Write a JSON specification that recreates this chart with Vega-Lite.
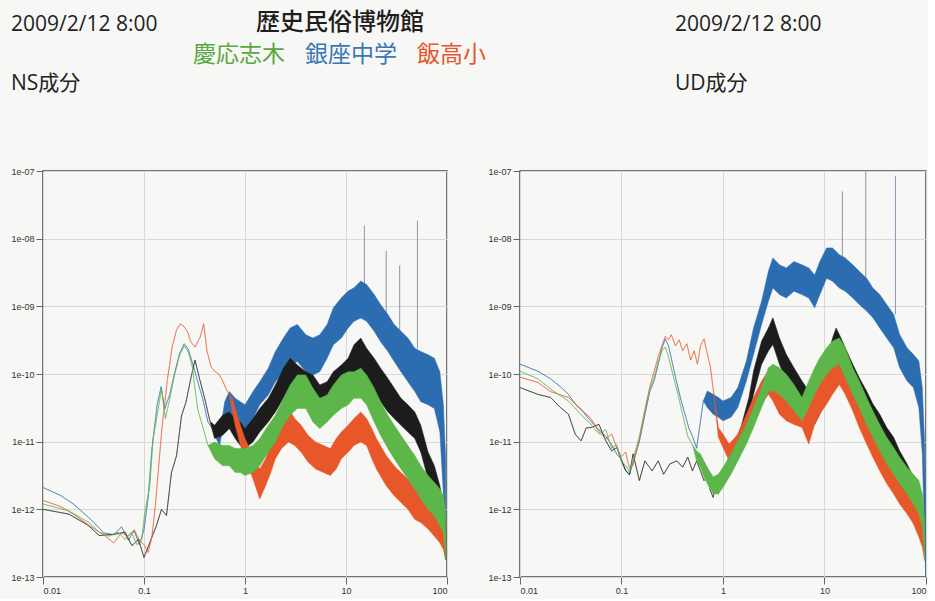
{
  "$schema": "https://vega.github.io/schema/vega-lite/v6.json",
  "background": "#f7f7f5",
  "padding": {"left": 10, "top": 11, "right": 0, "bottom": 3},
  "spacing": 38,
  "datasets": {
    "spikes": [
      {"p": "NS", "f": 15.2, "top": 1.55e-8, "base": 1.5e-9},
      {"p": "NS", "f": 25, "top": 6.6e-9, "base": 8e-10},
      {"p": "NS", "f": 34, "top": 4.0e-9, "base": 4.5e-10},
      {"p": "NS", "f": 51, "top": 1.85e-8, "base": 2.4e-10},
      {"p": "UD", "f": 15, "top": 5e-8, "base": 4e-9},
      {"p": "UD", "f": 25.5, "top": 1e-7, "base": 2.6e-9},
      {"p": "UD", "f": 50, "top": 8.5e-8, "base": 7.6e-10}
    ],
    "spec": [
      {"p":"NS","s":"銀座中学","f":0.01,"lo":2.1e-12,"hi":2.1e-12},
      {"p":"NS","s":"銀座中学","f":0.015,"lo":1.6e-12,"hi":1.6e-12},
      {"p":"NS","s":"銀座中学","f":0.02,"lo":1.2e-12,"hi":1.2e-12},
      {"p":"NS","s":"銀座中学","f":0.03,"lo":7e-13,"hi":7e-13},
      {"p":"NS","s":"銀座中学","f":0.04,"lo":4.5e-13,"hi":4.5e-13},
      {"p":"NS","s":"銀座中学","f":0.05,"lo":4.2e-13,"hi":4.2e-13},
      {"p":"NS","s":"銀座中学","f":0.06,"lo":5.5e-13,"hi":5.5e-13},
      {"p":"NS","s":"銀座中学","f":0.07,"lo":3.5e-13,"hi":3.5e-13},
      {"p":"NS","s":"銀座中学","f":0.08,"lo":4.8e-13,"hi":4.8e-13},
      {"p":"NS","s":"銀座中学","f":0.09,"lo":3.0e-13,"hi":3.0e-13},
      {"p":"NS","s":"銀座中学","f":0.1,"lo":5.0e-13,"hi":5.0e-13},
      {"p":"NS","s":"銀座中学","f":0.11,"lo":1.5e-12,"hi":1.5e-12},
      {"p":"NS","s":"銀座中学","f":0.12,"lo":8e-12,"hi":8e-12},
      {"p":"NS","s":"銀座中学","f":0.135,"lo":3.5e-11,"hi":3.5e-11},
      {"p":"NS","s":"銀座中学","f":0.148,"lo":6.5e-11,"hi":6.5e-11},
      {"p":"NS","s":"銀座中学","f":0.16,"lo":3.0e-11,"hi":3.0e-11},
      {"p":"NS","s":"銀座中学","f":0.18,"lo":5.0e-11,"hi":5.0e-11},
      {"p":"NS","s":"銀座中学","f":0.2,"lo":1.0e-10,"hi":1.0e-10},
      {"p":"NS","s":"銀座中学","f":0.225,"lo":2.0e-10,"hi":2.0e-10},
      {"p":"NS","s":"銀座中学","f":0.25,"lo":2.8e-10,"hi":2.8e-10},
      {"p":"NS","s":"銀座中学","f":0.275,"lo":2.3e-10,"hi":2.3e-10},
      {"p":"NS","s":"銀座中学","f":0.3,"lo":1.5e-10,"hi":1.5e-10},
      {"p":"NS","s":"銀座中学","f":0.34,"lo":7.7e-11,"hi":7.7e-11},
      {"p":"NS","s":"銀座中学","f":0.38,"lo":4.4e-11,"hi":4.4e-11},
      {"p":"NS","s":"銀座中学","f":0.43,"lo":1.95e-11,"hi":1.95e-11},
      {"p":"NS","s":"銀座中学","f":0.47,"lo":1.6e-11,"hi":1.6e-11},
      {"p":"NS","s":"銀座中学","f":0.5,"lo":1.24e-11,"hi":1.75e-11},
      {"p":"NS","s":"銀座中学","f":0.56,"lo":8.8e-12,"hi":1.24e-11},
      {"p":"NS","s":"銀座中学","f":0.63,"lo":2.2e-11,"hi":3.9e-11},
      {"p":"NS","s":"銀座中学","f":0.7,"lo":2.75e-11,"hi":5.5e-11},
      {"p":"NS","s":"銀座中学","f":0.8,"lo":2.2e-11,"hi":4.4e-11},
      {"p":"NS","s":"銀座中学","f":0.9,"lo":1.96e-11,"hi":3.9e-11},
      {"p":"NS","s":"銀座中学","f":1.0,"lo":1.56e-11,"hi":3.5e-11},
      {"p":"NS","s":"銀座中学","f":1.2,"lo":2.2e-11,"hi":5.5e-11},
      {"p":"NS","s":"銀座中学","f":1.4,"lo":3.5e-11,"hi":7.7e-11},
      {"p":"NS","s":"銀座中学","f":1.7,"lo":4.9e-11,"hi":1.22e-10},
      {"p":"NS","s":"銀座中学","f":2.0,"lo":7.7e-11,"hi":2.15e-10},
      {"p":"NS","s":"銀座中学","f":2.4,"lo":1.08e-10,"hi":3.4e-10},
      {"p":"NS","s":"銀座中学","f":2.8,"lo":1.36e-10,"hi":4.8e-10},
      {"p":"NS","s":"銀座中学","f":3.3,"lo":1.53e-10,"hi":5.4e-10},
      {"p":"NS","s":"銀座中学","f":4.0,"lo":1.08e-10,"hi":3.8e-10},
      {"p":"NS","s":"銀座中学","f":4.7,"lo":9.7e-11,"hi":3.4e-10},
      {"p":"NS","s":"銀座中学","f":5.5,"lo":1.08e-10,"hi":3.8e-10},
      {"p":"NS","s":"銀座中学","f":6.5,"lo":1.71e-10,"hi":5.4e-10},
      {"p":"NS","s":"銀座中学","f":7.5,"lo":2.7e-10,"hi":9.5e-10},
      {"p":"NS","s":"銀座中学","f":9,"lo":3.4e-10,"hi":1.34e-9},
      {"p":"NS","s":"銀座中学","f":10.5,"lo":4.8e-10,"hi":1.68e-9},
      {"p":"NS","s":"銀座中学","f":12,"lo":6.0e-10,"hi":1.88e-9},
      {"p":"NS","s":"銀座中学","f":14,"lo":6.7e-10,"hi":2.37e-9},
      {"p":"NS","s":"銀座中学","f":16,"lo":6.0e-10,"hi":2.1e-9},
      {"p":"NS","s":"銀座中学","f":19,"lo":4.3e-10,"hi":1.5e-9},
      {"p":"NS","s":"銀座中学","f":22,"lo":3.0e-10,"hi":1.06e-9},
      {"p":"NS","s":"銀座中学","f":26,"lo":2.15e-10,"hi":7.55e-10},
      {"p":"NS","s":"銀座中学","f":30,"lo":1.53e-10,"hi":5.4e-10},
      {"p":"NS","s":"銀座中学","f":35,"lo":1.08e-10,"hi":4.3e-10},
      {"p":"NS","s":"銀座中学","f":41,"lo":7.7e-11,"hi":3.4e-10},
      {"p":"NS","s":"銀座中学","f":48,"lo":5.5e-11,"hi":2.4e-10},
      {"p":"NS","s":"銀座中学","f":55,"lo":3.9e-11,"hi":2.15e-10},
      {"p":"NS","s":"銀座中学","f":65,"lo":3.5e-11,"hi":1.92e-10},
      {"p":"NS","s":"銀座中学","f":75,"lo":3.1e-11,"hi":1.71e-10},
      {"p":"NS","s":"銀座中学","f":85,"lo":1.39e-11,"hi":1.08e-10},
      {"p":"NS","s":"銀座中学","f":92,"lo":1.78e-12,"hi":3.5e-11},
      {"p":"NS","s":"銀座中学","f":97,"lo":3.2e-13,"hi":5.6e-12},

      {"p":"NS","s":"歴史民俗博物館","f":0.01,"lo":1.0e-12,"hi":1.0e-12},
      {"p":"NS","s":"歴史民俗博物館","f":0.018,"lo":8.5e-13,"hi":8.5e-13},
      {"p":"NS","s":"歴史民俗博物館","f":0.028,"lo":5.8e-13,"hi":5.8e-13},
      {"p":"NS","s":"歴史民俗博物館","f":0.036,"lo":4.1e-13,"hi":4.1e-13},
      {"p":"NS","s":"歴史民俗博物館","f":0.052,"lo":4.3e-13,"hi":4.3e-13},
      {"p":"NS","s":"歴史民俗博物館","f":0.065,"lo":4.6e-13,"hi":4.6e-13},
      {"p":"NS","s":"歴史民俗博物館","f":0.076,"lo":2.9e-13,"hi":2.9e-13},
      {"p":"NS","s":"歴史民俗博物館","f":0.088,"lo":3.6e-13,"hi":3.6e-13},
      {"p":"NS","s":"歴史民俗博物館","f":0.1,"lo":1.95e-13,"hi":1.95e-13},
      {"p":"NS","s":"歴史民俗博物館","f":0.114,"lo":3.2e-13,"hi":3.2e-13},
      {"p":"NS","s":"歴史民俗博物館","f":0.133,"lo":5.8e-13,"hi":5.8e-13},
      {"p":"NS","s":"歴史民俗博物館","f":0.149,"lo":1.0e-12,"hi":1.0e-12},
      {"p":"NS","s":"歴史民俗博物館","f":0.167,"lo":8.1e-13,"hi":8.1e-13},
      {"p":"NS","s":"歴史民俗博物館","f":0.187,"lo":3.5e-12,"hi":3.5e-12},
      {"p":"NS","s":"歴史民俗博物館","f":0.21,"lo":6.2e-12,"hi":6.2e-12},
      {"p":"NS","s":"歴史民俗博物館","f":0.235,"lo":2.4e-11,"hi":2.4e-11},
      {"p":"NS","s":"歴史民俗博物館","f":0.26,"lo":3.8e-11,"hi":3.8e-11},
      {"p":"NS","s":"歴史民俗博物館","f":0.295,"lo":9.5e-11,"hi":9.5e-11},
      {"p":"NS","s":"歴史民俗博物館","f":0.32,"lo":1.6e-10,"hi":1.6e-10},
      {"p":"NS","s":"歴史民俗博物館","f":0.355,"lo":8.5e-11,"hi":8.5e-11},
      {"p":"NS","s":"歴史民俗博物館","f":0.4,"lo":4.3e-11,"hi":4.3e-11},
      {"p":"NS","s":"歴史民俗博物館","f":0.45,"lo":2.0e-11,"hi":2.0e-11},
      {"p":"NS","s":"歴史民俗博物館","f":0.5,"lo":1.11e-11,"hi":1.75e-11},
      {"p":"NS","s":"歴史民俗博物館","f":0.6,"lo":1.24e-11,"hi":2.46e-11},
      {"p":"NS","s":"歴史民俗博物館","f":0.7,"lo":1.56e-11,"hi":2.75e-11},
      {"p":"NS","s":"歴史民俗博物館","f":0.8,"lo":1.11e-11,"hi":2.2e-11},
      {"p":"NS","s":"歴史民俗博物館","f":0.9,"lo":8.8e-12,"hi":1.96e-11},
      {"p":"NS","s":"歴史民俗博物館","f":1.0,"lo":7.9e-12,"hi":1.56e-11},
      {"p":"NS","s":"歴史民俗博物館","f":1.2,"lo":9.9e-12,"hi":2.2e-11},
      {"p":"NS","s":"歴史民俗博物館","f":1.4,"lo":1.39e-11,"hi":3.1e-11},
      {"p":"NS","s":"歴史民俗博物館","f":1.7,"lo":1.96e-11,"hi":4.4e-11},
      {"p":"NS","s":"歴史民俗博物館","f":2.0,"lo":2.75e-11,"hi":6.9e-11},
      {"p":"NS","s":"歴史民俗博物館","f":2.4,"lo":4.4e-11,"hi":1.22e-10},
      {"p":"NS","s":"歴史民俗博物館","f":2.8,"lo":5.5e-11,"hi":1.71e-10},
      {"p":"NS","s":"歴史民俗博物館","f":3.3,"lo":5.5e-11,"hi":1.36e-10},
      {"p":"NS","s":"歴史民俗博物館","f":4.0,"lo":3.9e-11,"hi":1.08e-10},
      {"p":"NS","s":"歴史民俗博物館","f":4.7,"lo":3.5e-11,"hi":9.7e-11},
      {"p":"NS","s":"歴史民俗博物館","f":5.5,"lo":3.1e-11,"hi":6.9e-11},
      {"p":"NS","s":"歴史民俗博物館","f":6.5,"lo":3.5e-11,"hi":7.7e-11},
      {"p":"NS","s":"歴史民俗博物館","f":7.5,"lo":4.4e-11,"hi":1.08e-10},
      {"p":"NS","s":"歴史民俗博物館","f":9,"lo":5.5e-11,"hi":1.36e-10},
      {"p":"NS","s":"歴史民俗博物館","f":10.5,"lo":6.2e-11,"hi":1.71e-10},
      {"p":"NS","s":"歴史民俗博物館","f":12,"lo":9.7e-11,"hi":2.7e-10},
      {"p":"NS","s":"歴史民俗博物館","f":14,"lo":1.22e-10,"hi":3.4e-10},
      {"p":"NS","s":"歴史民俗博物館","f":16,"lo":8.6e-11,"hi":2.4e-10},
      {"p":"NS","s":"歴史民俗博物館","f":19,"lo":5.5e-11,"hi":1.71e-10},
      {"p":"NS","s":"歴史民俗博物館","f":22,"lo":3.9e-11,"hi":1.22e-10},
      {"p":"NS","s":"歴史民俗博物館","f":26,"lo":2.75e-11,"hi":8.6e-11},
      {"p":"NS","s":"歴史民俗博物館","f":30,"lo":2.2e-11,"hi":6.2e-11},
      {"p":"NS","s":"歴史民俗博物館","f":35,"lo":1.75e-11,"hi":4.4e-11},
      {"p":"NS","s":"歴史民俗博物館","f":41,"lo":1.39e-11,"hi":3.5e-11},
      {"p":"NS","s":"歴史民俗博物館","f":48,"lo":1.11e-11,"hi":2.75e-11},
      {"p":"NS","s":"歴史民俗博物館","f":55,"lo":7.0e-12,"hi":1.75e-11},
      {"p":"NS","s":"歴史民俗博物館","f":65,"lo":2.8e-12,"hi":7.0e-12},
      {"p":"NS","s":"歴史民俗博物館","f":75,"lo":1.59e-12,"hi":4.4e-12},
      {"p":"NS","s":"歴史民俗博物館","f":85,"lo":7.1e-13,"hi":2.24e-12},
      {"p":"NS","s":"歴史民俗博物館","f":92,"lo":3.6e-13,"hi":1.13e-12},
      {"p":"NS","s":"歴史民俗博物館","f":97,"lo":1.8e-13,"hi":5.7e-13},

      {"p":"NS","s":"飯高小","f":0.01,"lo":1.35e-12,"hi":1.35e-12},
      {"p":"NS","s":"飯高小","f":0.015,"lo":1.1e-12,"hi":1.1e-12},
      {"p":"NS","s":"飯高小","f":0.02,"lo":8.5e-13,"hi":8.5e-13},
      {"p":"NS","s":"飯高小","f":0.03,"lo":5.5e-13,"hi":5.5e-13},
      {"p":"NS","s":"飯高小","f":0.04,"lo":4.2e-13,"hi":4.2e-13},
      {"p":"NS","s":"飯高小","f":0.05,"lo":3.2e-13,"hi":3.2e-13},
      {"p":"NS","s":"飯高小","f":0.06,"lo":4.5e-13,"hi":4.5e-13},
      {"p":"NS","s":"飯高小","f":0.07,"lo":4.0e-13,"hi":4.0e-13},
      {"p":"NS","s":"飯高小","f":0.08,"lo":5.0e-13,"hi":5.0e-13},
      {"p":"NS","s":"飯高小","f":0.09,"lo":3.5e-13,"hi":3.5e-13},
      {"p":"NS","s":"飯高小","f":0.1,"lo":3.0e-13,"hi":3.0e-13},
      {"p":"NS","s":"飯高小","f":0.11,"lo":2.3e-13,"hi":2.3e-13},
      {"p":"NS","s":"飯高小","f":0.12,"lo":4e-13,"hi":4e-13},
      {"p":"NS","s":"飯高小","f":0.13,"lo":1.2e-12,"hi":1.2e-12},
      {"p":"NS","s":"飯高小","f":0.15,"lo":1.5e-11,"hi":1.5e-11},
      {"p":"NS","s":"飯高小","f":0.17,"lo":8e-11,"hi":8e-11},
      {"p":"NS","s":"飯高小","f":0.19,"lo":2.5e-10,"hi":2.5e-10},
      {"p":"NS","s":"飯高小","f":0.21,"lo":4.5e-10,"hi":4.5e-10},
      {"p":"NS","s":"飯高小","f":0.23,"lo":5.5e-10,"hi":5.5e-10},
      {"p":"NS","s":"飯高小","f":0.25,"lo":5.0e-10,"hi":5.0e-10},
      {"p":"NS","s":"飯高小","f":0.27,"lo":4.2e-10,"hi":4.2e-10},
      {"p":"NS","s":"飯高小","f":0.29,"lo":3.0e-10,"hi":3.0e-10},
      {"p":"NS","s":"飯高小","f":0.32,"lo":2.5e-10,"hi":2.5e-10},
      {"p":"NS","s":"飯高小","f":0.36,"lo":3.5e-10,"hi":3.5e-10},
      {"p":"NS","s":"飯高小","f":0.39,"lo":5.5e-10,"hi":5.5e-10},
      {"p":"NS","s":"飯高小","f":0.42,"lo":2.2e-10,"hi":2.2e-10},
      {"p":"NS","s":"飯高小","f":0.46,"lo":1.3e-10,"hi":1.3e-10},
      {"p":"NS","s":"飯高小","f":0.5,"lo":1.1e-10,"hi":1.1e-10},
      {"p":"NS","s":"飯高小","f":0.55,"lo":1.0e-10,"hi":1.0e-10},
      {"p":"NS","s":"飯高小","f":0.6,"lo":8e-11,"hi":8e-11},
      {"p":"NS","s":"飯高小","f":0.65,"lo":6e-11,"hi":6e-11},
      {"p":"NS","s":"飯高小","f":0.7,"lo":5e-11,"hi":5e-11},
      {"p":"NS","s":"飯高小","f":0.75,"lo":2.75e-11,"hi":4.4e-11},
      {"p":"NS","s":"飯高小","f":0.8,"lo":1.75e-11,"hi":3.1e-11},
      {"p":"NS","s":"飯高小","f":0.9,"lo":8.8e-12,"hi":1.75e-11},
      {"p":"NS","s":"飯高小","f":1.0,"lo":5.6e-12,"hi":1.11e-11},
      {"p":"NS","s":"飯高小","f":1.2,"lo":2.8e-12,"hi":6.25e-12},
      {"p":"NS","s":"飯高小","f":1.4,"lo":1.42e-12,"hi":3.95e-12},
      {"p":"NS","s":"飯高小","f":1.6,"lo":2.24e-12,"hi":5.6e-12},
      {"p":"NS","s":"飯高小","f":1.8,"lo":3.5e-12,"hi":8.8e-12},
      {"p":"NS","s":"飯高小","f":2.0,"lo":5.6e-12,"hi":1.39e-11},
      {"p":"NS","s":"飯高小","f":2.3,"lo":7.9e-12,"hi":2.2e-11},
      {"p":"NS","s":"飯高小","f":2.7,"lo":9.9e-12,"hi":3.1e-11},
      {"p":"NS","s":"飯高小","f":3.1,"lo":8.8e-12,"hi":2.2e-11},
      {"p":"NS","s":"飯高小","f":3.6,"lo":7.0e-12,"hi":1.75e-11},
      {"p":"NS","s":"飯高小","f":4.2,"lo":5.0e-12,"hi":1.24e-11},
      {"p":"NS","s":"飯高小","f":5.0,"lo":3.95e-12,"hi":9.9e-12},
      {"p":"NS","s":"飯高小","f":6.0,"lo":3.5e-12,"hi":8.8e-12},
      {"p":"NS","s":"飯高小","f":7.0,"lo":3.15e-12,"hi":7.9e-12},
      {"p":"NS","s":"飯高小","f":8.0,"lo":3.95e-12,"hi":1.11e-11},
      {"p":"NS","s":"飯高小","f":9.0,"lo":5.6e-12,"hi":1.39e-11},
      {"p":"NS","s":"飯高小","f":10.5,"lo":7.0e-12,"hi":1.75e-11},
      {"p":"NS","s":"飯高小","f":12,"lo":8.8e-12,"hi":2.2e-11},
      {"p":"NS","s":"飯高小","f":14,"lo":9.9e-12,"hi":2.75e-11},
      {"p":"NS","s":"飯高小","f":16,"lo":8.8e-12,"hi":2.2e-11},
      {"p":"NS","s":"飯高小","f":18,"lo":5.6e-12,"hi":1.56e-11},
      {"p":"NS","s":"飯高小","f":20,"lo":3.95e-12,"hi":1.11e-11},
      {"p":"NS","s":"飯高小","f":25,"lo":2.24e-12,"hi":6.25e-12},
      {"p":"NS","s":"飯高小","f":30,"lo":1.59e-12,"hi":4.4e-12},
      {"p":"NS","s":"飯高小","f":35,"lo":1.26e-12,"hi":3.5e-12},
      {"p":"NS","s":"飯高小","f":41,"lo":1.0e-12,"hi":2.8e-12},
      {"p":"NS","s":"飯高小","f":48,"lo":7.1e-13,"hi":2.0e-12},
      {"p":"NS","s":"飯高小","f":55,"lo":6.4e-13,"hi":1.59e-12},
      {"p":"NS","s":"飯高小","f":65,"lo":5.1e-13,"hi":1.26e-12},
      {"p":"NS","s":"飯高小","f":75,"lo":4.0e-13,"hi":1.0e-12},
      {"p":"NS","s":"飯高小","f":85,"lo":3.2e-13,"hi":8.0e-13},
      {"p":"NS","s":"飯高小","f":92,"lo":2.56e-13,"hi":7.1e-13},
      {"p":"NS","s":"飯高小","f":97,"lo":1.8e-13,"hi":5.7e-13},

      {"p":"NS","s":"慶応志木","f":0.01,"lo":1.2e-12,"hi":1.2e-12},
      {"p":"NS","s":"慶応志木","f":0.018,"lo":9.5e-13,"hi":9.5e-13},
      {"p":"NS","s":"慶応志木","f":0.028,"lo":6.5e-13,"hi":6.5e-13},
      {"p":"NS","s":"慶応志木","f":0.036,"lo":4.6e-13,"hi":4.6e-13},
      {"p":"NS","s":"慶応志木","f":0.045,"lo":4.0e-13,"hi":4.0e-13},
      {"p":"NS","s":"慶応志木","f":0.055,"lo":4.6e-13,"hi":4.6e-13},
      {"p":"NS","s":"慶応志木","f":0.065,"lo":3.6e-13,"hi":3.6e-13},
      {"p":"NS","s":"慶応志木","f":0.075,"lo":4.6e-13,"hi":4.6e-13},
      {"p":"NS","s":"慶応志木","f":0.085,"lo":3.0e-13,"hi":3.0e-13},
      {"p":"NS","s":"慶応志木","f":0.095,"lo":3.6e-13,"hi":3.6e-13},
      {"p":"NS","s":"慶応志木","f":0.102,"lo":9.1e-13,"hi":9.1e-13},
      {"p":"NS","s":"慶応志木","f":0.114,"lo":2.2e-12,"hi":2.2e-12},
      {"p":"NS","s":"慶応志木","f":0.123,"lo":1.1e-11,"hi":1.1e-11},
      {"p":"NS","s":"慶応志木","f":0.138,"lo":3.0e-11,"hi":3.0e-11},
      {"p":"NS","s":"慶応志木","f":0.149,"lo":6.0e-11,"hi":6.0e-11},
      {"p":"NS","s":"慶応志木","f":0.163,"lo":2.2e-11,"hi":2.2e-11},
      {"p":"NS","s":"慶応志木","f":0.18,"lo":4.3e-11,"hi":4.3e-11},
      {"p":"NS","s":"慶応志木","f":0.2,"lo":9.5e-11,"hi":9.5e-11},
      {"p":"NS","s":"慶応志木","f":0.225,"lo":1.9e-10,"hi":1.9e-10},
      {"p":"NS","s":"慶応志木","f":0.25,"lo":2.6e-10,"hi":2.6e-10},
      {"p":"NS","s":"慶応志木","f":0.275,"lo":2.1e-10,"hi":2.1e-10},
      {"p":"NS","s":"慶応志木","f":0.3,"lo":1.3e-10,"hi":1.3e-10},
      {"p":"NS","s":"慶応志木","f":0.34,"lo":3.0e-11,"hi":3.0e-11},
      {"p":"NS","s":"慶応志木","f":0.38,"lo":1.7e-11,"hi":1.7e-11},
      {"p":"NS","s":"慶応志木","f":0.43,"lo":8.8e-12,"hi":8.8e-12},
      {"p":"NS","s":"慶応志木","f":0.5,"lo":5.6e-12,"hi":9.9e-12},
      {"p":"NS","s":"慶応志木","f":0.6,"lo":4.4e-12,"hi":8.8e-12},
      {"p":"NS","s":"慶応志木","f":0.7,"lo":4.4e-12,"hi":8.8e-12},
      {"p":"NS","s":"慶応志木","f":0.8,"lo":3.5e-12,"hi":7.9e-12},
      {"p":"NS","s":"慶応志木","f":0.9,"lo":3.5e-12,"hi":7.9e-12},
      {"p":"NS","s":"慶応志木","f":1.0,"lo":3.15e-12,"hi":7.9e-12},
      {"p":"NS","s":"慶応志木","f":1.2,"lo":3.5e-12,"hi":8.8e-12},
      {"p":"NS","s":"慶応志木","f":1.4,"lo":4.4e-12,"hi":1.11e-11},
      {"p":"NS","s":"慶応志木","f":1.7,"lo":7.0e-12,"hi":1.75e-11},
      {"p":"NS","s":"慶応志木","f":2.0,"lo":9.9e-12,"hi":2.46e-11},
      {"p":"NS","s":"慶応志木","f":2.4,"lo":1.75e-11,"hi":4.4e-11},
      {"p":"NS","s":"慶応志木","f":2.8,"lo":2.46e-11,"hi":6.9e-11},
      {"p":"NS","s":"慶応志木","f":3.3,"lo":3.1e-11,"hi":9.7e-11},
      {"p":"NS","s":"慶応志木","f":4.0,"lo":3.1e-11,"hi":9.7e-11},
      {"p":"NS","s":"慶応志木","f":4.7,"lo":1.96e-11,"hi":6.2e-11},
      {"p":"NS","s":"慶応志木","f":5.5,"lo":1.56e-11,"hi":4.4e-11},
      {"p":"NS","s":"慶応志木","f":6.5,"lo":1.96e-11,"hi":4.9e-11},
      {"p":"NS","s":"慶応志木","f":7.5,"lo":2.46e-11,"hi":6.9e-11},
      {"p":"NS","s":"慶応志木","f":9,"lo":3.1e-11,"hi":9.7e-11},
      {"p":"NS","s":"慶応志木","f":10.5,"lo":3.5e-11,"hi":1.08e-10},
      {"p":"NS","s":"慶応志木","f":12,"lo":4.4e-11,"hi":1.08e-10},
      {"p":"NS","s":"慶応志木","f":14,"lo":4.4e-11,"hi":1.22e-10},
      {"p":"NS","s":"慶応志木","f":16,"lo":3.5e-11,"hi":9.7e-11},
      {"p":"NS","s":"慶応志木","f":19,"lo":1.96e-11,"hi":6.2e-11},
      {"p":"NS","s":"慶応志木","f":22,"lo":1.24e-11,"hi":3.9e-11},
      {"p":"NS","s":"慶応志木","f":26,"lo":7.9e-12,"hi":2.46e-11},
      {"p":"NS","s":"慶応志木","f":30,"lo":5.6e-12,"hi":1.75e-11},
      {"p":"NS","s":"慶応志木","f":35,"lo":3.95e-12,"hi":1.24e-11},
      {"p":"NS","s":"慶応志木","f":41,"lo":2.8e-12,"hi":8.8e-12},
      {"p":"NS","s":"慶応志木","f":48,"lo":2.0e-12,"hi":6.25e-12},
      {"p":"NS","s":"慶応志木","f":55,"lo":1.42e-12,"hi":4.4e-12},
      {"p":"NS","s":"慶応志木","f":65,"lo":1.0e-12,"hi":3.15e-12},
      {"p":"NS","s":"慶応志木","f":75,"lo":8.0e-13,"hi":2.5e-12},
      {"p":"NS","s":"慶応志木","f":85,"lo":5.7e-13,"hi":2.0e-12},
      {"p":"NS","s":"慶応志木","f":92,"lo":4.5e-13,"hi":1.59e-12},
      {"p":"NS","s":"慶応志木","f":97,"lo":1.8e-13,"hi":9.0e-13},

      {"p":"UD","s":"銀座中学","f":0.01,"lo":1.4e-10,"hi":1.4e-10},
      {"p":"UD","s":"銀座中学","f":0.015,"lo":1.1e-10,"hi":1.1e-10},
      {"p":"UD","s":"銀座中学","f":0.02,"lo":8.5e-11,"hi":8.5e-11},
      {"p":"UD","s":"銀座中学","f":0.025,"lo":6.5e-11,"hi":6.5e-11},
      {"p":"UD","s":"銀座中学","f":0.03,"lo":5.0e-11,"hi":5.0e-11},
      {"p":"UD","s":"銀座中学","f":0.035,"lo":3.6e-11,"hi":3.6e-11},
      {"p":"UD","s":"銀座中学","f":0.04,"lo":3.0e-11,"hi":3.0e-11},
      {"p":"UD","s":"銀座中学","f":0.05,"lo":2.0e-11,"hi":2.0e-11},
      {"p":"UD","s":"銀座中学","f":0.06,"lo":1.5e-11,"hi":1.5e-11},
      {"p":"UD","s":"銀座中学","f":0.07,"lo":1.2e-11,"hi":1.2e-11},
      {"p":"UD","s":"銀座中学","f":0.08,"lo":9e-12,"hi":9e-12},
      {"p":"UD","s":"銀座中学","f":0.09,"lo":6.5e-12,"hi":6.5e-12},
      {"p":"UD","s":"銀座中学","f":0.1,"lo":5.5e-12,"hi":5.5e-12},
      {"p":"UD","s":"銀座中学","f":0.11,"lo":3.8e-12,"hi":3.8e-12},
      {"p":"UD","s":"銀座中学","f":0.12,"lo":3.2e-12,"hi":3.2e-12},
      {"p":"UD","s":"銀座中学","f":0.13,"lo":5.0e-12,"hi":5.0e-12},
      {"p":"UD","s":"銀座中学","f":0.15,"lo":1.0e-11,"hi":1.0e-11},
      {"p":"UD","s":"銀座中学","f":0.17,"lo":2.5e-11,"hi":2.5e-11},
      {"p":"UD","s":"銀座中学","f":0.19,"lo":5.5e-11,"hi":5.5e-11},
      {"p":"UD","s":"銀座中学","f":0.21,"lo":8.0e-11,"hi":8.0e-11},
      {"p":"UD","s":"銀座中学","f":0.23,"lo":1.4e-10,"hi":1.4e-10},
      {"p":"UD","s":"銀座中学","f":0.25,"lo":2.4e-10,"hi":2.4e-10},
      {"p":"UD","s":"銀座中学","f":0.27,"lo":3.3e-10,"hi":3.3e-10},
      {"p":"UD","s":"銀座中学","f":0.29,"lo":2.6e-10,"hi":2.6e-10},
      {"p":"UD","s":"銀座中学","f":0.31,"lo":1.7e-10,"hi":1.7e-10},
      {"p":"UD","s":"銀座中学","f":0.34,"lo":9e-11,"hi":9e-11},
      {"p":"UD","s":"銀座中学","f":0.38,"lo":4.5e-11,"hi":4.5e-11},
      {"p":"UD","s":"銀座中学","f":0.42,"lo":2.6e-11,"hi":2.6e-11},
      {"p":"UD","s":"銀座中学","f":0.46,"lo":1.6e-11,"hi":1.6e-11},
      {"p":"UD","s":"銀座中学","f":0.5,"lo":1.2e-11,"hi":1.2e-11},
      {"p":"UD","s":"銀座中学","f":0.55,"lo":8e-12,"hi":8e-12},
      {"p":"UD","s":"銀座中学","f":0.6,"lo":2.0e-11,"hi":2.0e-11},
      {"p":"UD","s":"銀座中学","f":0.64,"lo":4.0e-11,"hi":4.0e-11},
      {"p":"UD","s":"銀座中学","f":0.7,"lo":3.2e-11,"hi":5.6e-11},
      {"p":"UD","s":"銀座中学","f":0.8,"lo":2.55e-11,"hi":5.0e-11},
      {"p":"UD","s":"銀座中学","f":0.9,"lo":2.3e-11,"hi":4.5e-11},
      {"p":"UD","s":"銀座中学","f":1.0,"lo":2.03e-11,"hi":4.0e-11},
      {"p":"UD","s":"銀座中学","f":1.2,"lo":2.3e-11,"hi":4.5e-11},
      {"p":"UD","s":"銀座中学","f":1.4,"lo":3.2e-11,"hi":6.3e-11},
      {"p":"UD","s":"銀座中学","f":1.7,"lo":7.9e-11,"hi":1.56e-10},
      {"p":"UD","s":"銀座中学","f":2.0,"lo":1.95e-10,"hi":4.8e-10},
      {"p":"UD","s":"銀座中学","f":2.4,"lo":5.4e-10,"hi":1.19e-9},
      {"p":"UD","s":"銀座中学","f":2.8,"lo":1.19e-9,"hi":3.3e-9},
      {"p":"UD","s":"銀座中学","f":3.1,"lo":1.87e-9,"hi":5.2e-9},
      {"p":"UD","s":"銀座中学","f":3.6,"lo":1.49e-9,"hi":4.1e-9},
      {"p":"UD","s":"銀座中学","f":4.2,"lo":1.33e-9,"hi":3.7e-9},
      {"p":"UD","s":"銀座中学","f":5.0,"lo":1.67e-9,"hi":4.6e-9},
      {"p":"UD","s":"銀座中学","f":6.0,"lo":1.49e-9,"hi":4.1e-9},
      {"p":"UD","s":"銀座中学","f":7.0,"lo":1.33e-9,"hi":3.7e-9},
      {"p":"UD","s":"銀座中学","f":8.0,"lo":9.5e-10,"hi":2.9e-9},
      {"p":"UD","s":"銀座中学","f":9.0,"lo":1.49e-9,"hi":4.6e-9},
      {"p":"UD","s":"銀座中学","f":10.5,"lo":2.6e-9,"hi":7.3e-9},
      {"p":"UD","s":"銀座中学","f":12,"lo":2.34e-9,"hi":7.3e-9},
      {"p":"UD","s":"銀座中学","f":14,"lo":1.87e-9,"hi":5.8e-9},
      {"p":"UD","s":"銀座中学","f":16,"lo":1.67e-9,"hi":5.2e-9},
      {"p":"UD","s":"銀座中学","f":19,"lo":1.33e-9,"hi":4.1e-9},
      {"p":"UD","s":"銀座中学","f":22,"lo":1.06e-9,"hi":3.3e-9},
      {"p":"UD","s":"銀座中学","f":26,"lo":8.5e-10,"hi":2.6e-9},
      {"p":"UD","s":"銀座中学","f":30,"lo":6.8e-10,"hi":1.87e-9},
      {"p":"UD","s":"銀座中学","f":35,"lo":4.8e-10,"hi":1.49e-9},
      {"p":"UD","s":"銀座中学","f":41,"lo":3.4e-10,"hi":1.06e-9},
      {"p":"UD","s":"銀座中学","f":48,"lo":2.45e-10,"hi":7.6e-10},
      {"p":"UD","s":"銀座中学","f":55,"lo":1.24e-10,"hi":3.85e-10},
      {"p":"UD","s":"銀座中学","f":65,"lo":7.9e-11,"hi":2.45e-10},
      {"p":"UD","s":"銀座中学","f":75,"lo":6.3e-11,"hi":1.95e-10},
      {"p":"UD","s":"銀座中学","f":85,"lo":3.2e-11,"hi":1.56e-10},
      {"p":"UD","s":"銀座中学","f":92,"lo":6.6e-12,"hi":6.3e-11},
      {"p":"UD","s":"銀座中学","f":97,"lo":3.1e-13,"hi":9.2e-12},
      {"p":"UD","s":"銀座中学","f":99.5,"lo":1.1e-13,"hi":1.76e-13},

      {"p":"UD","s":"歴史民俗博物館","f":0.01,"lo":6.3e-11,"hi":6.3e-11},
      {"p":"UD","s":"歴史民俗博物館","f":0.015,"lo":5.0e-11,"hi":5.0e-11},
      {"p":"UD","s":"歴史民俗博物館","f":0.02,"lo":4.5e-11,"hi":4.5e-11},
      {"p":"UD","s":"歴史民俗博物館","f":0.025,"lo":3.2e-11,"hi":3.2e-11},
      {"p":"UD","s":"歴史民俗博物館","f":0.03,"lo":2.55e-11,"hi":2.55e-11},
      {"p":"UD","s":"歴史民俗博物館","f":0.035,"lo":1.29e-11,"hi":1.29e-11},
      {"p":"UD","s":"歴史民俗博物館","f":0.04,"lo":1.03e-11,"hi":1.03e-11},
      {"p":"UD","s":"歴史民俗博物館","f":0.045,"lo":1.6e-11,"hi":1.6e-11},
      {"p":"UD","s":"歴史民俗博物館","f":0.05,"lo":1.62e-11,"hi":1.62e-11},
      {"p":"UD","s":"歴史民俗博物館","f":0.06,"lo":1.8e-11,"hi":1.8e-11},
      {"p":"UD","s":"歴史民俗博物館","f":0.07,"lo":1.03e-11,"hi":1.03e-11},
      {"p":"UD","s":"歴史民俗博物館","f":0.08,"lo":7.3e-12,"hi":7.3e-12},
      {"p":"UD","s":"歴史民俗博物館","f":0.09,"lo":8.2e-12,"hi":8.2e-12},
      {"p":"UD","s":"歴史民俗博物館","f":0.1,"lo":5.2e-12,"hi":5.2e-12},
      {"p":"UD","s":"歴史民俗博物館","f":0.11,"lo":3.7e-12,"hi":3.7e-12},
      {"p":"UD","s":"歴史民俗博物館","f":0.12,"lo":3.3e-12,"hi":3.3e-12},
      {"p":"UD","s":"歴史民俗博物館","f":0.13,"lo":6.6e-12,"hi":6.6e-12},
      {"p":"UD","s":"歴史民俗博物館","f":0.15,"lo":2.66e-12,"hi":2.66e-12},
      {"p":"UD","s":"歴史民俗博物館","f":0.17,"lo":5.2e-12,"hi":5.2e-12},
      {"p":"UD","s":"歴史民俗博物館","f":0.2,"lo":3.7e-12,"hi":3.7e-12},
      {"p":"UD","s":"歴史民俗博物館","f":0.23,"lo":5.2e-12,"hi":5.2e-12},
      {"p":"UD","s":"歴史民俗博物館","f":0.26,"lo":3.3e-12,"hi":3.3e-12},
      {"p":"UD","s":"歴史民俗博物館","f":0.3,"lo":4.7e-12,"hi":4.7e-12},
      {"p":"UD","s":"歴史民俗博物館","f":0.35,"lo":5.2e-12,"hi":5.2e-12},
      {"p":"UD","s":"歴史民俗博物館","f":0.4,"lo":4.2e-12,"hi":4.2e-12},
      {"p":"UD","s":"歴史民俗博物館","f":0.45,"lo":5.9e-12,"hi":5.9e-12},
      {"p":"UD","s":"歴史民俗博物館","f":0.5,"lo":3.7e-12,"hi":3.7e-12},
      {"p":"UD","s":"歴史民俗博物館","f":0.55,"lo":5.2e-12,"hi":5.2e-12},
      {"p":"UD","s":"歴史民俗博物館","f":0.6,"lo":3.7e-12,"hi":3.7e-12},
      {"p":"UD","s":"歴史民俗博物館","f":0.65,"lo":2.66e-12,"hi":2.66e-12},
      {"p":"UD","s":"歴史民俗博物館","f":0.7,"lo":3.0e-12,"hi":3.0e-12},
      {"p":"UD","s":"歴史民俗博物館","f":0.75,"lo":1.9e-12,"hi":1.9e-12},
      {"p":"UD","s":"歴史民俗博物館","f":0.8,"lo":1.5e-12,"hi":1.5e-12},
      {"p":"UD","s":"歴史民俗博物館","f":0.85,"lo":2.4e-12,"hi":2.4e-12},
      {"p":"UD","s":"歴史民俗博物館","f":0.9,"lo":1.7e-12,"hi":1.7e-12},
      {"p":"UD","s":"歴史民俗博物館","f":1.0,"lo":3.3e-12,"hi":3.3e-12},
      {"p":"UD","s":"歴史民俗博物館","f":1.2,"lo":5.2e-12,"hi":7.3e-12},
      {"p":"UD","s":"歴史民俗博物館","f":1.5,"lo":9.2e-12,"hi":1.62e-11},
      {"p":"UD","s":"歴史民俗博物館","f":1.8,"lo":2.3e-11,"hi":4.5e-11},
      {"p":"UD","s":"歴史民俗博物館","f":2.0,"lo":5.0e-11,"hi":1.11e-10},
      {"p":"UD","s":"歴史民俗博物館","f":2.4,"lo":1.39e-10,"hi":3.07e-10},
      {"p":"UD","s":"歴史民俗博物館","f":2.8,"lo":2.18e-10,"hi":4.8e-10},
      {"p":"UD","s":"歴史民俗博物館","f":3.1,"lo":2.74e-10,"hi":6.8e-10},
      {"p":"UD","s":"歴史民俗博物館","f":3.6,"lo":1.39e-10,"hi":3.4e-10},
      {"p":"UD","s":"歴史民俗博物館","f":4.2,"lo":7.9e-11,"hi":1.95e-10},
      {"p":"UD","s":"歴史民俗博物館","f":5.0,"lo":5.0e-11,"hi":1.24e-10},
      {"p":"UD","s":"歴史民俗博物館","f":6.0,"lo":3.2e-11,"hi":7.9e-11},
      {"p":"UD","s":"歴史民俗博物館","f":7.0,"lo":2.3e-11,"hi":5.6e-11},
      {"p":"UD","s":"歴史民俗博物館","f":8.0,"lo":1.8e-11,"hi":4.5e-11},
      {"p":"UD","s":"歴史民俗博物館","f":9.0,"lo":2.55e-11,"hi":6.3e-11},
      {"p":"UD","s":"歴史民俗博物館","f":10.5,"lo":5.6e-11,"hi":1.56e-10},
      {"p":"UD","s":"歴史民俗博物館","f":12,"lo":1.39e-10,"hi":3.4e-10},
      {"p":"UD","s":"歴史民俗博物館","f":13,"lo":1.95e-10,"hi":4.8e-10},
      {"p":"UD","s":"歴史民俗博物館","f":14,"lo":1.56e-10,"hi":3.85e-10},
      {"p":"UD","s":"歴史民俗博物館","f":16,"lo":8.8e-11,"hi":2.45e-10},
      {"p":"UD","s":"歴史民俗博物館","f":19,"lo":5.0e-11,"hi":1.39e-10},
      {"p":"UD","s":"歴史民俗博物館","f":22,"lo":3.6e-11,"hi":8.8e-11},
      {"p":"UD","s":"歴史民俗博物館","f":26,"lo":2.3e-11,"hi":5.6e-11},
      {"p":"UD","s":"歴史民俗博物館","f":30,"lo":1.62e-11,"hi":3.6e-11},
      {"p":"UD","s":"歴史民俗博物館","f":35,"lo":1.16e-11,"hi":2.55e-11},
      {"p":"UD","s":"歴史民俗博物館","f":41,"lo":7.3e-12,"hi":1.62e-11},
      {"p":"UD","s":"歴史民俗博物館","f":48,"lo":5.9e-12,"hi":1.16e-11},
      {"p":"UD","s":"歴史民俗博物館","f":55,"lo":3.0e-12,"hi":7.3e-12},
      {"p":"UD","s":"歴史民俗博物館","f":65,"lo":1.69e-12,"hi":4.7e-12},
      {"p":"UD","s":"歴史民俗博物館","f":75,"lo":1.07e-12,"hi":3.0e-12},
      {"p":"UD","s":"歴史民俗博物館","f":85,"lo":6.8e-13,"hi":1.69e-12},
      {"p":"UD","s":"歴史民俗博物館","f":92,"lo":3.9e-13,"hi":9.6e-13},

      {"p":"UD","s":"飯高小","f":0.01,"lo":9e-11,"hi":9e-11},
      {"p":"UD","s":"飯高小","f":0.015,"lo":7.5e-11,"hi":7.5e-11},
      {"p":"UD","s":"飯高小","f":0.02,"lo":5.5e-11,"hi":5.5e-11},
      {"p":"UD","s":"飯高小","f":0.03,"lo":4.5e-11,"hi":4.5e-11},
      {"p":"UD","s":"飯高小","f":0.04,"lo":3e-11,"hi":3e-11},
      {"p":"UD","s":"飯高小","f":0.05,"lo":2.2e-11,"hi":2.2e-11},
      {"p":"UD","s":"飯高小","f":0.06,"lo":1.4e-11,"hi":1.4e-11},
      {"p":"UD","s":"飯高小","f":0.07,"lo":1.1e-11,"hi":1.1e-11},
      {"p":"UD","s":"飯高小","f":0.08,"lo":1.3e-11,"hi":1.3e-11},
      {"p":"UD","s":"飯高小","f":0.09,"lo":8e-12,"hi":8e-12},
      {"p":"UD","s":"飯高小","f":0.1,"lo":6e-12,"hi":6e-12},
      {"p":"UD","s":"飯高小","f":0.11,"lo":7e-12,"hi":7e-12},
      {"p":"UD","s":"飯高小","f":0.12,"lo":4e-12,"hi":4e-12},
      {"p":"UD","s":"飯高小","f":0.13,"lo":4.5e-12,"hi":4.5e-12},
      {"p":"UD","s":"飯高小","f":0.15,"lo":1.1e-11,"hi":1.1e-11},
      {"p":"UD","s":"飯高小","f":0.17,"lo":2.8e-11,"hi":2.8e-11},
      {"p":"UD","s":"飯高小","f":0.19,"lo":6.5e-11,"hi":6.5e-11},
      {"p":"UD","s":"飯高小","f":0.21,"lo":1.1e-10,"hi":1.1e-10},
      {"p":"UD","s":"飯高小","f":0.23,"lo":1.8e-10,"hi":1.8e-10},
      {"p":"UD","s":"飯高小","f":0.25,"lo":2.6e-10,"hi":2.6e-10},
      {"p":"UD","s":"飯高小","f":0.27,"lo":3.6e-10,"hi":3.6e-10},
      {"p":"UD","s":"飯高小","f":0.29,"lo":3.2e-10,"hi":3.2e-10},
      {"p":"UD","s":"飯高小","f":0.31,"lo":3.8e-10,"hi":3.8e-10},
      {"p":"UD","s":"飯高小","f":0.34,"lo":2.6e-10,"hi":2.6e-10},
      {"p":"UD","s":"飯高小","f":0.37,"lo":3.2e-10,"hi":3.2e-10},
      {"p":"UD","s":"飯高小","f":0.4,"lo":2.2e-10,"hi":2.2e-10},
      {"p":"UD","s":"飯高小","f":0.44,"lo":2.8e-10,"hi":2.8e-10},
      {"p":"UD","s":"飯高小","f":0.48,"lo":1.6e-10,"hi":1.6e-10},
      {"p":"UD","s":"飯高小","f":0.52,"lo":2.2e-10,"hi":2.2e-10},
      {"p":"UD","s":"飯高小","f":0.56,"lo":1.4e-10,"hi":1.4e-10},
      {"p":"UD","s":"飯高小","f":0.6,"lo":2.6e-10,"hi":2.6e-10},
      {"p":"UD","s":"飯高小","f":0.65,"lo":3.3e-10,"hi":3.3e-10},
      {"p":"UD","s":"飯高小","f":0.7,"lo":2.0e-10,"hi":2.0e-10},
      {"p":"UD","s":"飯高小","f":0.75,"lo":1.3e-10,"hi":1.3e-10},
      {"p":"UD","s":"飯高小","f":0.8,"lo":6e-11,"hi":6e-11},
      {"p":"UD","s":"飯高小","f":0.9,"lo":1.16e-11,"hi":1.62e-11},
      {"p":"UD","s":"飯高小","f":1.0,"lo":8.2e-12,"hi":1.29e-11},
      {"p":"UD","s":"飯高小","f":1.15,"lo":5.2e-12,"hi":9.2e-12},
      {"p":"UD","s":"飯高小","f":1.4,"lo":6.6e-12,"hi":1.29e-11},
      {"p":"UD","s":"飯高小","f":1.7,"lo":1.16e-11,"hi":2.55e-11},
      {"p":"UD","s":"飯高小","f":2.0,"lo":2.03e-11,"hi":4.5e-11},
      {"p":"UD","s":"飯高小","f":2.4,"lo":3.6e-11,"hi":7.9e-11},
      {"p":"UD","s":"飯高小","f":2.8,"lo":5.0e-11,"hi":1.11e-10},
      {"p":"UD","s":"飯高小","f":3.1,"lo":4.0e-11,"hi":8.8e-11},
      {"p":"UD","s":"飯高小","f":3.6,"lo":2.55e-11,"hi":6.3e-11},
      {"p":"UD","s":"飯高小","f":4.2,"lo":2.03e-11,"hi":5.0e-11},
      {"p":"UD","s":"飯高小","f":5.0,"lo":1.8e-11,"hi":4.5e-11},
      {"p":"UD","s":"飯高小","f":6.0,"lo":1.62e-11,"hi":4.0e-11},
      {"p":"UD","s":"飯高小","f":7.0,"lo":9.2e-12,"hi":3.6e-11},
      {"p":"UD","s":"飯高小","f":8.0,"lo":1.8e-11,"hi":5.6e-11},
      {"p":"UD","s":"飯高小","f":9.0,"lo":2.55e-11,"hi":7.9e-11},
      {"p":"UD","s":"飯高小","f":10.5,"lo":3.6e-11,"hi":9.9e-11},
      {"p":"UD","s":"飯高小","f":12,"lo":5.0e-11,"hi":1.39e-10},
      {"p":"UD","s":"飯高小","f":14,"lo":7.0e-11,"hi":1.74e-10},
      {"p":"UD","s":"飯高小","f":16,"lo":5.0e-11,"hi":1.24e-10},
      {"p":"UD","s":"飯高小","f":19,"lo":2.85e-11,"hi":7.0e-11},
      {"p":"UD","s":"飯高小","f":22,"lo":1.62e-11,"hi":4.0e-11},
      {"p":"UD","s":"飯高小","f":26,"lo":9.2e-12,"hi":2.3e-11},
      {"p":"UD","s":"飯高小","f":30,"lo":5.9e-12,"hi":1.45e-11},
      {"p":"UD","s":"飯高小","f":35,"lo":3.7e-12,"hi":9.2e-12},
      {"p":"UD","s":"飯高小","f":41,"lo":2.4e-12,"hi":5.9e-12},
      {"p":"UD","s":"飯高小","f":48,"lo":1.69e-12,"hi":3.7e-12},
      {"p":"UD","s":"飯高小","f":55,"lo":1.2e-12,"hi":2.66e-12},
      {"p":"UD","s":"飯高小","f":65,"lo":8.6e-13,"hi":1.9e-12},
      {"p":"UD","s":"飯高小","f":75,"lo":6.1e-13,"hi":1.35e-12},
      {"p":"UD","s":"飯高小","f":85,"lo":3.9e-13,"hi":9.6e-13},
      {"p":"UD","s":"飯高小","f":92,"lo":2.77e-13,"hi":6.8e-13},
      {"p":"UD","s":"飯高小","f":97,"lo":1.76e-13,"hi":4.4e-13},

      {"p":"UD","s":"慶応志木","f":0.01,"lo":1.1e-10,"hi":1.1e-10},
      {"p":"UD","s":"慶応志木","f":0.015,"lo":8.5e-11,"hi":8.5e-11},
      {"p":"UD","s":"慶応志木","f":0.02,"lo":6e-11,"hi":6e-11},
      {"p":"UD","s":"慶応志木","f":0.03,"lo":4e-11,"hi":4e-11},
      {"p":"UD","s":"慶応志木","f":0.04,"lo":2.5e-11,"hi":2.5e-11},
      {"p":"UD","s":"慶応志木","f":0.05,"lo":1.8e-11,"hi":1.8e-11},
      {"p":"UD","s":"慶応志木","f":0.06,"lo":1.3e-11,"hi":1.3e-11},
      {"p":"UD","s":"慶応志木","f":0.07,"lo":1.5e-11,"hi":1.5e-11},
      {"p":"UD","s":"慶応志木","f":0.08,"lo":8e-12,"hi":8e-12},
      {"p":"UD","s":"慶応志木","f":0.09,"lo":9e-12,"hi":9e-12},
      {"p":"UD","s":"慶応志木","f":0.1,"lo":5e-12,"hi":5e-12},
      {"p":"UD","s":"慶応志木","f":0.11,"lo":4.5e-12,"hi":4.5e-12},
      {"p":"UD","s":"慶応志木","f":0.12,"lo":3.5e-12,"hi":3.5e-12},
      {"p":"UD","s":"慶応志木","f":0.13,"lo":5.5e-12,"hi":5.5e-12},
      {"p":"UD","s":"慶応志木","f":0.15,"lo":1.2e-11,"hi":1.2e-11},
      {"p":"UD","s":"慶応志木","f":0.17,"lo":3e-11,"hi":3e-11},
      {"p":"UD","s":"慶応志木","f":0.19,"lo":6e-11,"hi":6e-11},
      {"p":"UD","s":"慶応志木","f":0.21,"lo":9e-11,"hi":9e-11},
      {"p":"UD","s":"慶応志木","f":0.23,"lo":1.5e-10,"hi":1.5e-10},
      {"p":"UD","s":"慶応志木","f":0.25,"lo":2.2e-10,"hi":2.2e-10},
      {"p":"UD","s":"慶応志木","f":0.27,"lo":2.5e-10,"hi":2.5e-10},
      {"p":"UD","s":"慶応志木","f":0.29,"lo":1.8e-10,"hi":1.8e-10},
      {"p":"UD","s":"慶応志木","f":0.32,"lo":1.0e-10,"hi":1.0e-10},
      {"p":"UD","s":"慶応志木","f":0.36,"lo":5e-11,"hi":5e-11},
      {"p":"UD","s":"慶応志木","f":0.4,"lo":2.5e-11,"hi":2.5e-11},
      {"p":"UD","s":"慶応志木","f":0.45,"lo":1.2e-11,"hi":1.2e-11},
      {"p":"UD","s":"慶応志木","f":0.5,"lo":9e-12,"hi":9e-12},
      {"p":"UD","s":"慶応志木","f":0.55,"lo":5.2e-12,"hi":7.3e-12},
      {"p":"UD","s":"慶応志木","f":0.6,"lo":4.2e-12,"hi":6.6e-12},
      {"p":"UD","s":"慶応志木","f":0.65,"lo":3.0e-12,"hi":5.2e-12},
      {"p":"UD","s":"慶応志木","f":0.7,"lo":2.4e-12,"hi":4.2e-12},
      {"p":"UD","s":"慶応志木","f":0.8,"lo":1.69e-12,"hi":3.0e-12},
      {"p":"UD","s":"慶応志木","f":0.9,"lo":1.69e-12,"hi":3.3e-12},
      {"p":"UD","s":"慶応志木","f":1.0,"lo":2.1e-12,"hi":4.2e-12},
      {"p":"UD","s":"慶応志木","f":1.2,"lo":3.3e-12,"hi":6.6e-12},
      {"p":"UD","s":"慶応志木","f":1.4,"lo":5.2e-12,"hi":1.03e-11},
      {"p":"UD","s":"慶応志木","f":1.7,"lo":9.2e-12,"hi":1.8e-11},
      {"p":"UD","s":"慶応志木","f":2.0,"lo":1.62e-11,"hi":3.2e-11},
      {"p":"UD","s":"慶応志木","f":2.4,"lo":3.2e-11,"hi":6.3e-11},
      {"p":"UD","s":"慶応志木","f":2.8,"lo":5.6e-11,"hi":1.24e-10},
      {"p":"UD","s":"慶応志木","f":3.1,"lo":5.6e-11,"hi":1.39e-10},
      {"p":"UD","s":"慶応志木","f":3.6,"lo":5.0e-11,"hi":1.24e-10},
      {"p":"UD","s":"慶応志木","f":4.2,"lo":4.0e-11,"hi":9.9e-11},
      {"p":"UD","s":"慶応志木","f":5.0,"lo":2.85e-11,"hi":7.0e-11},
      {"p":"UD","s":"慶応志木","f":6.0,"lo":2.03e-11,"hi":4.5e-11},
      {"p":"UD","s":"慶応志木","f":7.0,"lo":3.2e-11,"hi":7.9e-11},
      {"p":"UD","s":"慶応志木","f":8.0,"lo":5.0e-11,"hi":1.24e-10},
      {"p":"UD","s":"慶応志木","f":9.0,"lo":7.0e-11,"hi":1.74e-10},
      {"p":"UD","s":"慶応志木","f":10.5,"lo":9.9e-11,"hi":2.45e-10},
      {"p":"UD","s":"慶応志木","f":12,"lo":1.24e-10,"hi":3.07e-10},
      {"p":"UD","s":"慶応志木","f":14,"lo":1.39e-10,"hi":3.4e-10},
      {"p":"UD","s":"慶応志木","f":16,"lo":8.8e-11,"hi":2.45e-10},
      {"p":"UD","s":"慶応志木","f":19,"lo":5.0e-11,"hi":1.24e-10},
      {"p":"UD","s":"慶応志木","f":22,"lo":3.2e-11,"hi":7.9e-11},
      {"p":"UD","s":"慶応志木","f":26,"lo":1.8e-11,"hi":4.5e-11},
      {"p":"UD","s":"慶応志木","f":30,"lo":1.16e-11,"hi":2.85e-11},
      {"p":"UD","s":"慶応志木","f":35,"lo":7.3e-12,"hi":1.8e-11},
      {"p":"UD","s":"慶応志木","f":41,"lo":4.7e-12,"hi":1.16e-11},
      {"p":"UD","s":"慶応志木","f":48,"lo":3.3e-12,"hi":8.2e-12},
      {"p":"UD","s":"慶応志木","f":55,"lo":2.4e-12,"hi":5.9e-12},
      {"p":"UD","s":"慶応志木","f":65,"lo":1.69e-12,"hi":4.2e-12},
      {"p":"UD","s":"慶応志木","f":75,"lo":1.2e-12,"hi":3.3e-12},
      {"p":"UD","s":"慶応志木","f":85,"lo":8.6e-13,"hi":2.66e-12},
      {"p":"UD","s":"慶応志木","f":92,"lo":5.5e-13,"hi":1.69e-12},
      {"p":"UD","s":"慶応志木","f":97,"lo":1.76e-13,"hi":6.8e-13}
    ]
  },
  "hconcat": [
    {
      "width": 404,
      "height": 406,
      "title": {"text": "2009/2/12 8:00", "subtitle": "NS成分", "anchor": "start", "frame": "bounds", "dx": 0, "offset": 73},
      "layer": [
        {
          "data": {"name": "spikes"},
          "transform": [{"filter": "datum.p == 'NS'"}],
          "mark": {"type": "rule", "color": "#8a96a8", "strokeWidth": 1, "clip": true},
          "encoding": {
            "x": {"field": "f", "type": "quantitative", "scale": {"type": "log", "domain": [0.01, 100], "nice": false}, "axis": {"values": [0.01, 0.1, 1, 10, 100], "format": "~g"}},
            "y": {"field": "top", "type": "quantitative", "scale": {"type": "log", "domain": [1e-13, 1e-7], "nice": false}, "axis": {"values": [1e-13, 1e-12, 1e-11, 1e-10, 1e-9, 1e-8, 1e-7], "labelExpr": "'1e-' + (datum.value > 5e-10 ? '0' : '') + format(-round(log(datum.value) / LN10), 'd')"}},
            "y2": {"field": "base"}
          }
        },
        {
          "data": {"name": "spec"},
          "transform": [{"filter": "datum.p == 'NS'"}],
          "mark": {"type": "area", "strokeWidth": 1, "strokeOpacity": 0.5, "fillOpacity": 1, "clip": true},
          "encoding": {
            "x": {"field": "f", "type": "quantitative", "scale": {"type": "log", "domain": [0.01, 100], "nice": false}},
            "y": {"field": "lo", "type": "quantitative", "scale": {"type": "log", "domain": [1e-13, 1e-7], "nice": false}},
            "y2": {"field": "hi"},
            "color": {
              "field": "s", "type": "nominal",
              "scale": {"domain": ["歴史民俗博物館", "慶応志木", "銀座中学", "飯高小"], "range": ["#1c1c1c", "#5db649", "#2b6db0", "#e8572a"]},
              "legend": {
                "orient": "none", "legendX": 150, "legendY": -160, "direction": "horizontal",
                "values": ["慶応志木", "銀座中学", "飯高小"],
                "title": "歴史民俗博物館", "titleFontSize": 24, "titleFontWeight": 500, "titleColor": "#1e1e1e", "titleAnchor": "middle", "titlePadding": 8,
                "titleFont": "Noto Sans CJK JP", "labelFont": "Noto Sans CJK JP",
                "labelFontSize": 23, "symbolSize": 0, "symbolStrokeWidth": 0, "symbolOpacity": 0, "labelOffset": -23, "columnPadding": 20,
                "labelColor": {"expr": "datum.value == '慶応志木' ? '#5aa843' : datum.value == '銀座中学' ? '#3a78b2' : '#e4572e'"}
              }
            },
            "stroke": {
              "field": "s", "type": "nominal",
              "scale": {"domain": ["歴史民俗博物館", "慶応志木", "銀座中学", "飯高小"], "range": ["#1c1c1c", "#5db649", "#2b6db0", "#e8572a"]},
              "legend": null
            }
          }
        }
      ]
    },
    {
      "width": 406,
      "height": 406,
      "title": {"text": "2009/2/12 8:00", "subtitle": "UD成分", "anchor": "start", "frame": "bounds", "dx": 187, "offset": 73},
      "layer": [
        {
          "data": {"name": "spikes"},
          "transform": [{"filter": "datum.p == 'UD'"}],
          "mark": {"type": "rule", "color": "#8a96a8", "strokeWidth": 1, "clip": true},
          "encoding": {
            "x": {"field": "f", "type": "quantitative", "scale": {"type": "log", "domain": [0.01, 100], "nice": false}, "axis": {"values": [0.01, 0.1, 1, 10, 100], "format": "~g"}},
            "y": {"field": "top", "type": "quantitative", "scale": {"type": "log", "domain": [1e-13, 1e-7], "nice": false}, "axis": {"values": [1e-13, 1e-12, 1e-11, 1e-10, 1e-9, 1e-8, 1e-7], "labelExpr": "'1e-' + (datum.value > 5e-10 ? '0' : '') + format(-round(log(datum.value) / LN10), 'd')"}},
            "y2": {"field": "base"}
          }
        },
        {
          "data": {"name": "spec"},
          "transform": [{"filter": "datum.p == 'UD'"}],
          "mark": {"type": "area", "strokeWidth": 1, "strokeOpacity": 0.5, "fillOpacity": 1, "clip": true},
          "encoding": {
            "x": {"field": "f", "type": "quantitative", "scale": {"type": "log", "domain": [0.01, 100], "nice": false}},
            "y": {"field": "lo", "type": "quantitative", "scale": {"type": "log", "domain": [1e-13, 1e-7], "nice": false}},
            "y2": {"field": "hi"},
            "color": {"field": "s", "type": "nominal", "scale": {"domain": ["歴史民俗博物館", "慶応志木", "銀座中学", "飯高小"], "range": ["#1c1c1c", "#5db649", "#2b6db0", "#e8572a"]}, "legend": null},
            "stroke": {"field": "s", "type": "nominal", "scale": {"domain": ["歴史民俗博物館", "慶応志木", "銀座中学", "飯高小"], "range": ["#1c1c1c", "#5db649", "#2b6db0", "#e8572a"]}, "legend": null}
          }
        }
      ]
    }
  ],
  "config": {
    "font": "Open Sans, Noto Sans CJK JP",
    "view": {"stroke": "#4a4a4a", "strokeWidth": 1.5},
    "axis": {"title": null, "domain": false, "grid": true, "gridColor": "#d8d8d8", "gridWidth": 1, "tickColor": "#666", "tickSize": 7, "labelFont": "Liberation Sans", "labelFontSize": 9, "labelColor": "#333", "labelPadding": 2},
    "title": {"font": "Open Sans, Noto Sans CJK JP", "fontSize": 21, "fontWeight": "normal", "color": "#222", "subtitleFont": "Open Sans, Noto Sans CJK JP", "subtitleFontSize": 21, "subtitleColor": "#222", "subtitlePadding": 38}
  }
}
